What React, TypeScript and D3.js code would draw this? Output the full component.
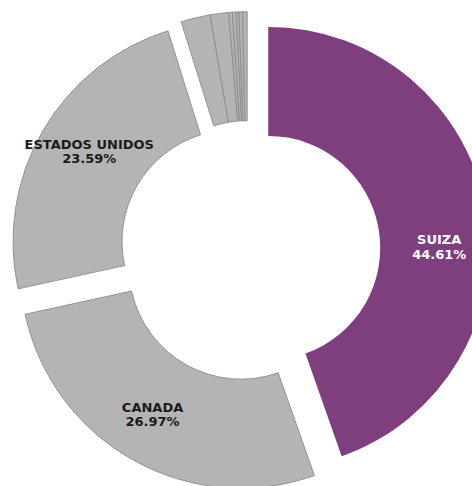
import React from "react";
import * as d3 from "d3";

const categories = ["SUIZA", "CANADA", "ESTADOS UNIDOS", "OTRO 1", "OTRO 2", "OTRO 3", "OTRO 4", "OTRO 5", "OTRO 6", "OTRO 7"];
const shares = [44.61, 26.97, 23.59, 2.15, 1.34, 0.27, 0.27, 0.2, 0.27, 0.33];
const showLabel = [true, true, true, false, false, false, false, false, false, false];
const groupOf = [0, 1, 2, 3, 3, 3, 3, 3, 3, 3]; // small slices exploded together
const fills = ["#7f3e7e", "#b4b4b4", "#b4b4b4", "#b4b4b4", "#b4b4b4", "#b4b4b4", "#b4b4b4", "#b4b4b4", "#b4b4b4", "#b4b4b4"];
const labelColors = ["#ffffff", "#1a1a1a", "#1a1a1a"];
const labelAngleNudge = [9.2, 2, 2]; // degrees

const W = 472;
const H = 486;
const CX = 250;
const CY = 251;
const R_OUT = 221;
const R_IN = 112;
const EXPLODE = 18.5;
const LABEL_R = 171;

export default function App() {
  const data = categories.map((c, i) => ({ name: c, value: shares[i], i }));
  const pie = d3.pie<any>().value((d) => d.value).sort(null).startAngle(0).endAngle(2 * Math.PI);
  const arcs = pie(data);
  const arcGen = d3.arc<any>().innerRadius(R_IN).outerRadius(R_OUT);

  const groupMid = (g: number) => {
    const members = arcs.filter((_, k) => groupOf[k] === g);
    const s = d3.min(members, (m) => m.startAngle) as number;
    const e = d3.max(members, (m) => m.endAngle) as number;
    return (s + e) / 2;
  };

  return (
    <svg width={W} height={H} style={{ position: "absolute", left: 0, top: 0, background: "#fff" }}>
      <g transform={`translate(${CX},${CY})`}>
        {arcs.map((a, k) => {
          const mid = groupMid(groupOf[k]);
          const dx = Math.sin(mid) * EXPLODE;
          const dy = -Math.cos(mid) * EXPLODE;
          const isMain = k === 0;
          return (
            <path
              key={k}
              d={arcGen(a) as string}
              transform={`translate(${dx},${dy})`}
              fill={fills[k]}
              stroke={isMain ? "none" : "#8c8c8c"}
              strokeWidth={isMain ? 0 : 0.9}
            />
          );
        })}
        {arcs.map((a, k) => {
          if (!showLabel[k]) return null;
          const mid = (a.startAngle + a.endAngle) / 2;
          const dx = Math.sin(mid) * EXPLODE;
          const dy = -Math.cos(mid) * EXPLODE;
          const la = mid + (labelAngleNudge[k] * Math.PI) / 180;
          const x = dx + Math.sin(la) * LABEL_R;
          const y = dy - Math.cos(la) * LABEL_R;
          return (
            <text
              key={"t" + k}
              x={x}
              y={y}
              textAnchor="middle"
              fontFamily="'DejaVu Sans', sans-serif"
              fontWeight="bold"
              fontSize={13}
              fill={labelColors[k]}
            >
              <tspan x={x} dy="-0.15em">{categories[k]}</tspan>
              <tspan x={x} dy="1.12em">{shares[k].toFixed(2) + "%"}</tspan>
            </text>
          );
        })}
      </g>
    </svg>
  );
}
